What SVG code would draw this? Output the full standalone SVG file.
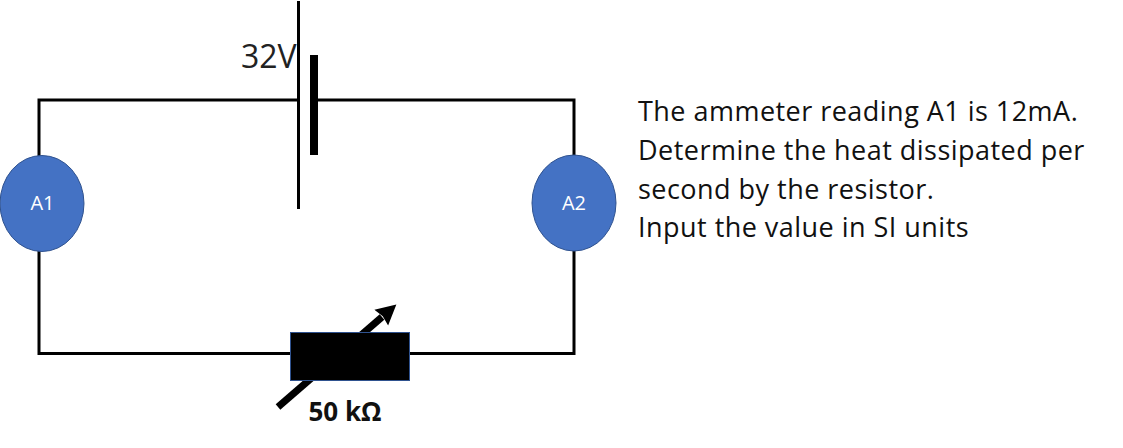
<svg xmlns="http://www.w3.org/2000/svg" width="1123" height="448" viewBox="0 0 1123 448">
<defs>
<style>
.w{fill:none;stroke:#000;stroke-width:3;stroke-linecap:square}
.m{fill:#4472c4;stroke:#2f528f;stroke-width:1}
.ml{font:20px "Open Sans","Noto Sans",sans-serif;fill:#fff;text-anchor:middle}
.t{font:27px "Open Sans","Noto Sans",sans-serif;fill:#111;letter-spacing:.47px}
</style>
<marker id="ah" markerUnits="userSpaceOnUse" markerWidth="22" markerHeight="24" refX="1" refY="11" orient="auto"><path d="M0 .5L20 11L0 21.500L2 11Z" fill="#000"/></marker>
</defs>
<g id="connectors">
<path class="w" d="M296 100H39V353.500H290"/>
<path class="w" d="M316 100H574V353.500H410"/>
</g>
<g id="battery">
<path d="M298.500 1V209" stroke="#000" stroke-width="3" fill="none"/>
<rect x="310" y="55" width="8" height="100" fill="#000"/>
<text x="241" y="68" font-family="'Open Sans','Noto Sans',sans-serif" font-size="32" fill="#222">32V</text>
</g>
<g id="A1"><ellipse class="m" cx="42" cy="203.500" rx="42" ry="48"/><text class="ml" x="42.500" y="210">A1</text></g>
<g id="A2"><ellipse class="m" cx="574" cy="203" rx="42" ry="48"/><text class="ml" x="574" y="210">A2</text></g>
<g id="resistor">
<path d="M278 407L382 317" fill="none" stroke="#000" stroke-width="7" marker-end="url(#ah)"/>
<rect x="290.500" y="332.500" width="119" height="48" fill="#000" stroke="#2f528f"/>
<text x="345" y="421" font-family="'Open Sans','Noto Sans',sans-serif" font-size="26" font-weight="700" fill="#111" text-anchor="middle">50 kΩ</text>
</g>
<g id="question">
<text class="t" x="638" y="121">The ammeter reading A1 is 12mA.</text>
<text class="t" x="638" y="160">Determine the heat dissipated per</text>
<text class="t" x="638" y="199">second by the resistor.</text>
<text class="t" x="638" y="237">Input the value in SI units</text>
</g>
</svg>
